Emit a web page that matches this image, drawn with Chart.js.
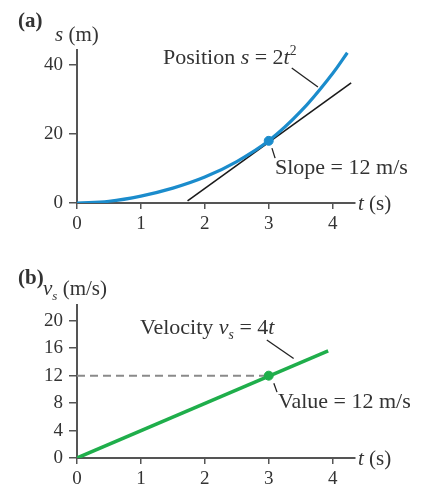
<!DOCTYPE html>
<html>
<head>
<meta charset="utf-8">
<script src="https://cdn.jsdelivr.net/npm/chart.js@4.4.1/dist/chart.umd.min.js"></script>
<style>
  html, body { margin: 0; padding: 0; background: #fff; }
  #wrap { position: relative; width: 422px; height: 488px; }
  .c { position: absolute; left: 0; width: 422px; height: 244px; }
</style>
</head>
<body>
<div id="wrap">
  <div class="c" style="top:0"><canvas id="top" width="422" height="244"></canvas></div>
  <div class="c" style="top:244px"><canvas id="bot" width="422" height="244"></canvas></div>
</div>
<script>
// ---- data ----
const xTicks = [0, 1, 2, 3, 4];
const yTicksTop = [0, 20, 40];
const yTicksBot = [0, 4, 8, 12, 16, 20];

const tPos = [0, 0.5, 1, 1.5, 2, 2.5, 3, 3.5, 4, 4.23];
const sPos = [0, 0.5, 2, 4.3, 7.5, 12, 18, 26.5, 37.5, 43.5];

const tTan = [1.73, 4.29];
const sTan = [0.6, 34.8];

const tMark = [3];
const sMark = [18];

const tVel = [0, 3.93];
const vVel = [0, 15.6];
const vMark = [12];
const tDash = [0, 3];
const vDash = [12, 12];

// leader lines (data coordinates)
const leadPos = [[3.36, 39.1], [3.77, 33.6]];
const leadSlope = [[3.05, 15.9], [3.10, 13.0]];
const leadVel = [[2.97, 17.2], [3.39, 14.5]];
const leadVal = [[3.08, 10.9], [3.13, 9.6]];

const pts = (xs, ys) => xs.map((x, i) => ({x: x, y: ys[i]}));

const SERIF = '"Liberation Serif", "DejaVu Serif", serif';
const AXIS = '#555555';
const TXT = '#333333';

function drawRuns(ctx, x, y, parts, size) {
  ctx.save();
  ctx.fillStyle = TXT;
  ctx.textBaseline = 'alphabetic';
  ctx.textAlign = 'left';
  let cx = x;
  for (const p of parts) {
    const [text, st] = p;
    let fs = size, dy = 0, style = '';
    if (st === 'i') style = 'italic ';
    if (st === 'b') style = 'bold ';
    if (st === 'sup') { fs = size * 0.62; dy = -size * 0.42; }
    if (st === 'sub') { fs = size * 0.62; dy = size * 0.22; style = 'italic '; }
    ctx.font = style + fs + 'px ' + SERIF;
    ctx.fillText(text, cx, y + dy);
    cx += ctx.measureText(text).width;
  }
  ctx.restore();
}

function leader(chart, seg) {
  const xs = chart.scales.x, ys = chart.scales.y, ctx = chart.ctx;
  ctx.save();
  ctx.strokeStyle = '#222';
  ctx.lineWidth = 1.3;
  ctx.beginPath();
  ctx.moveTo(xs.getPixelForValue(seg[0][0]), ys.getPixelForValue(seg[0][1]));
  ctx.lineTo(xs.getPixelForValue(seg[1][0]), ys.getPixelForValue(seg[1][1]));
  ctx.stroke();
  ctx.restore();
}

function scalesCfg(ymax, yTicks) {
  return {
    x: {
      type: 'linear', min: 0, max: 4.35,
      afterBuildTicks: s => { s.ticks = xTicks.map(v => ({value: v})); },
      afterFit: s => { s.height = 30; },
      grid: { drawOnChartArea: false, drawTicks: true, tickLength: 6, color: AXIS, lineWidth: 1.5 },
      border: { display: true, color: AXIS, width: 2 },
      ticks: { color: TXT, padding: 4, font: { family: SERIF, size: 19 }, maxRotation: 0 }
    },
    y: {
      type: 'linear', min: 0, max: ymax,
      afterBuildTicks: s => { s.ticks = yTicks.map(v => ({value: v})); },
      afterFit: s => { s.width = 77; },
      grid: { drawOnChartArea: false, drawTicks: true, tickLength: 8, color: AXIS, lineWidth: 1.5 },
      border: { display: true, color: AXIS, width: 2 },
      ticks: { color: TXT, padding: 6, font: { family: SERIF, size: 19 } }
    }
  };
}

const common = {
  responsive: false,
  animation: false,
  plugins: { legend: { display: false }, tooltip: { enabled: false } }
};

// ---- top chart ----
new Chart(document.getElementById('top'), {
  type: 'line',
  data: {
    datasets: [
      { data: pts(tTan, sTan), borderColor: '#1a1a1a', borderWidth: 1.6, pointRadius: 0, order: 2 },
      { data: pts(tPos, sPos), borderColor: '#1b8ccc', borderWidth: 3.2, pointRadius: 0,
        tension: 0.4, order: 1 },
      { data: pts(tMark, sMark), showLine: false, pointRadius: 4.5, pointBackgroundColor: '#1b8ccc',
        pointBorderColor: '#1b8ccc', order: 0 }
    ]
  },
  options: Object.assign({}, common, {
    layout: { padding: { left: 0, top: 50, right: 67, bottom: 11 } },
    scales: scalesCfg(44.3, yTicksTop)
  }),
  plugins: [{
    id: 'ann',
    afterDraw(chart) {
      const ctx = chart.ctx;
      leader(chart, leadPos);
      leader(chart, leadSlope);
      drawRuns(ctx, 18, 27, [['(a)', 'b']], 21);
      drawRuns(ctx, 55, 41, [['s', 'i'], [' (m)', 'n']], 21);
      drawRuns(ctx, 163, 64, [['Position ', 'n'], ['s', 'i'], [' = 2', 'n'], ['t', 'i'], ['2', 'sup']], 22);
      drawRuns(ctx, 275, 174, [['Slope = 12 m/s', 'n']], 22);
      drawRuns(ctx, 358, 210, [['t', 'i'], [' (s)', 'n']], 21);
    }
  }]
});

// ---- bottom chart ----
new Chart(document.getElementById('bot'), {
  type: 'line',
  data: {
    datasets: [
      { data: pts(tDash, vDash), borderColor: '#8a8a8a', borderWidth: 2, borderDash: [8, 5], pointRadius: 0, order: 3 },
      { data: pts(tVel, vVel), borderColor: '#1fae4b', borderWidth: 3.5, pointRadius: 0, order: 1 },
      { data: pts(tMark, vMark), showLine: false, pointRadius: 4.5, pointBackgroundColor: '#1fae4b',
        pointBorderColor: '#1fae4b', order: 0 }
    ]
  },
  options: Object.assign({}, common, {
    layout: { padding: { left: 0, top: 61, right: 67, bottom: 0 } },
    scales: scalesCfg(22.3, yTicksBot)
  }),
  plugins: [{
    id: 'ann2',
    afterDraw(chart) {
      const ctx = chart.ctx;
      leader(chart, leadVel);
      leader(chart, leadVal);
      drawRuns(ctx, 18, 40, [['(b)', 'b']], 21);
      drawRuns(ctx, 43, 51, [['v', 'i'], ['s', 'sub'], [' (m/s)', 'n']], 21);
      drawRuns(ctx, 140, 90, [['Velocity ', 'n'], ['v', 'i'], ['s', 'sub'], [' = 4', 'n'], ['t', 'i']], 22);
      drawRuns(ctx, 278, 164, [['Value = 12 m/s', 'n']], 22);
      drawRuns(ctx, 358, 221, [['t', 'i'], [' (s)', 'n']], 21);
    }
  }]
});
</script>
</body>
</html>
